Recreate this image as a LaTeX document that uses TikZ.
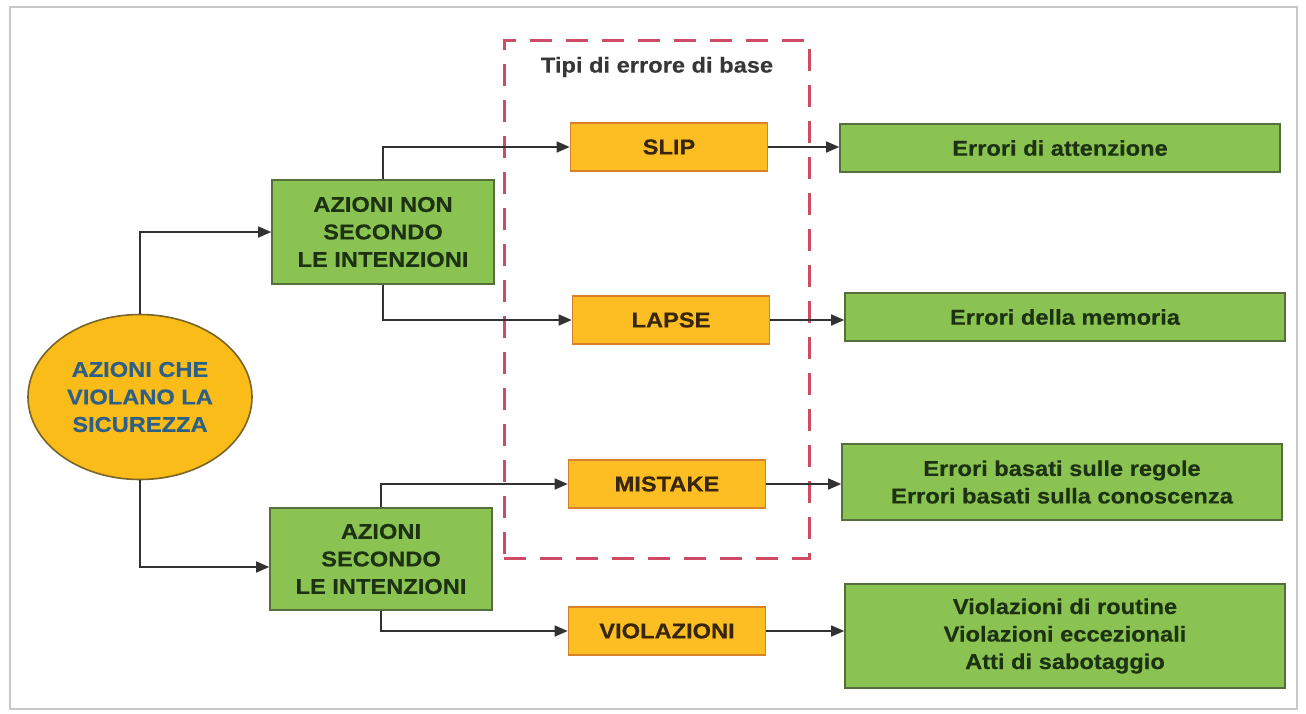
\documentclass[tikz,border=0pt]{standalone}
\usepackage{fontspec}
\setmainfont{Liberation Sans}[FakeStretch=1.1, BoldFeatures={FakeBold=0.4}]
\usetikzlibrary{arrows.meta,shapes.geometric,calc}
\definecolor{gfill}{RGB}{139,195,82}
\definecolor{gdraw}{RGB}{85,110,60}
\definecolor{gtext}{RGB}{28,50,18}
\definecolor{ofill}{RGB}{253,190,35}
\definecolor{odraw}{RGB}{215,130,40}
\definecolor{otext}{RGB}{55,38,10}
\definecolor{efill}{RGB}{250,188,25}
\definecolor{edraw}{RGB}{120,100,40}
\definecolor{etext}{RGB}{45,95,135}
\definecolor{dred}{RGB}{205,75,100}
\definecolor{framec}{RGB}{200,200,200}
\definecolor{connc}{RGB}{50,50,50}
\definecolor{titlec}{RGB}{55,55,55}
\begin{document}
\begin{tikzpicture}[x=1pt,y=-1pt,
  every node/.style={font=\fontsize{21.5}{27.5}\selectfont\bfseries, inner sep=0pt, align=center},
  gbox/.style={rectangle, draw=gdraw, fill=gfill, line width=1.6pt, text=gtext},
  obox/.style={rectangle, draw=odraw, fill=ofill, line width=1.6pt, text=otext, minimum width=197pt, minimum height=48pt},
  rbox/.style={gbox, minimum width=440pt},
  conn/.style={draw=connc, line width=1.5pt, -{Triangle[length=13pt,width=11pt]}}]
\useasboundingbox (0,0) rectangle (1306,713);
\draw[framec, line width=2pt] (10,7) rectangle (1297,709);

\node[draw=dred, line width=3pt, dash pattern=on 22pt off 14pt, minimum width=305pt, minimum height=518pt] (group) at (656.5,299) {};
\node[text=titlec] (title) at (657,67) {Tipi di errore di base};

\node[ellipse, draw=edraw, fill=efill, line width=1.6pt, minimum width=224pt, minimum height=165pt, text=etext] (ell) at (140,397) {AZIONI CHE\\VIOLANO LA\\SICUREZZA};

\node[gbox, minimum width=222pt, minimum height=104pt] (a1) at (383,232) {AZIONI NON\\SECONDO\\LE INTENZIONI};
\node[gbox, minimum width=222pt, minimum height=102pt] (a2) at (381,559) {AZIONI\\SECONDO\\LE INTENZIONI};

\node[obox] (slip) at (669,147) {SLIP};
\node[obox] (lapse) at (671,320) {LAPSE};
\node[obox] (mistake) at (667,484) {MISTAKE};
\node[obox] (viol) at (667,631) {VIOLAZIONI};

\node[rbox, minimum height=48pt] (err1) at (1060,148) {Errori di attenzione};
\node[rbox, minimum height=48pt] (err2) at (1065,317) {Errori della memoria};
\node[rbox, minimum height=76pt] (err3) at (1062,482) {Errori basati sulle regole\\Errori basati sulla conoscenza};
\node[rbox, minimum height=104pt] (err4) at (1065,636) {Violazioni di routine\\Violazioni eccezionali\\Atti di sabotaggio};

\draw[conn] (ell.north) |- (a1.west);
\draw[conn] (ell.south) |- ([yshift=-8pt]a2.west);
\draw[conn] (a1.north) |- (slip.west);
\draw[conn] (a1.south) |- (lapse.west);
\draw[conn] (a2.north) |- (mistake.west);
\draw[conn] (a2.south) |- (viol.west);
\draw[conn] (slip.east) -- (slip.east -| err1.west);
\draw[conn] (lapse.east) -- (lapse.east -| err2.west);
\draw[conn] (mistake.east) -- (mistake.east -| err3.west);
\draw[conn] (viol.east) -- (viol.east -| err4.west);
\end{tikzpicture}
\end{document}
